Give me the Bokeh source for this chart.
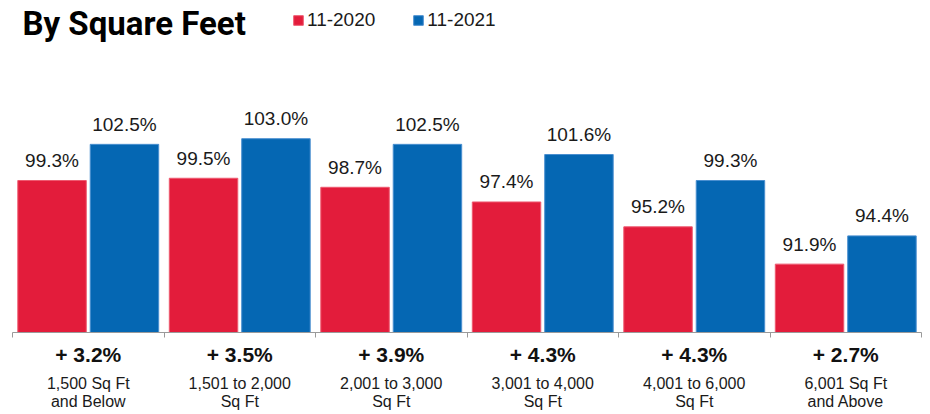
from bokeh.plotting import figure
from bokeh.models import (Range1d, FixedTicker, LinearAxis, Label, Legend, LegendItem,
                          ColumnDataSource)
from bokeh.core.properties import value
from bokeh.embed import file_html
from bokeh.resources import INLINE

title_text = "By Square Feet"
series_names = ["11-2020", "11-2021"]
categories = ["1,500 Sq Ft\nand Below", "1,501 to 2,000\nSq Ft", "2,001 to 3,000\nSq Ft",
              "3,001 to 4,000\nSq Ft", "4,001 to 6,000\nSq Ft", "6,001 Sq Ft\nand Above"]
changes = ["+ 3.2%", "+ 3.5%", "+ 3.9%", "+ 4.3%", "+ 4.3%", "+ 2.7%"]
values_2020 = [99.3, 99.5, 98.7, 97.4, 95.2, 91.9]
values_2021 = [102.5, 103.0, 102.5, 101.6, 99.3, 94.4]

RED = "#E31C3B"
BLUE = "#0567B3"
FONT = "Liberation Sans"
TITLE_FONT = "Roboto"

Y0, Y1 = 85.85, 115.23
n = len(categories)
centers = [i + 0.5 for i in range(n)]
OFF = 0.239
W = 0.452

src = ColumnDataSource(dict(
    xr=[c - OFF for c in centers],
    xb=[c + OFF for c in centers],
    v20=values_2020,
    v21=values_2021,
    l20=[f"{v:.1f}%" for v in values_2020],
    l21=[f"{v:.1f}%" for v in values_2021],
))

p = figure(width=930, height=414, output_backend="svg", toolbar_location=None,
           x_range=Range1d(0, n), y_range=Range1d(Y0, Y1),
           x_axis_location=None, y_axis_location=None,
           min_border_left=12, min_border_right=9, min_border_top=0, min_border_bottom=82)
p.outline_line_color = None
p.grid.visible = False
p.background_fill_color = "white"

r20 = p.vbar(x="xr", top="v20", bottom=Y0, width=W, source=src,
             fill_color=RED, line_color="#EE5A70", line_width=1)
r21 = p.vbar(x="xb", top="v21", bottom=Y0, width=W, source=src,
             fill_color=BLUE, line_color="#4A8FD0", line_width=1)

for xcol, ycol, lcol in (("xr", "v20", "l20"), ("xb", "v21", "l21")):
    p.text(x=xcol, y=ycol, text=lcol, source=src, text_align="center",
           text_baseline="alphabetic", y_offset=-20,
           text_font=value(FONT), text_font_size="19px", text_color="#1a1a1a")

ax1 = LinearAxis(ticker=FixedTicker(ticks=centers, minor_ticks=list(range(n + 1))),
                 major_label_overrides={c: ch for c, ch in zip(centers, changes)},
                 major_tick_out=0, major_tick_in=0, minor_tick_out=5, minor_tick_in=0,
                 axis_line_color="#9a9a9a", minor_tick_line_color="#9a9a9a",
                 major_label_text_font=FONT, major_label_text_font_style="bold",
                 major_label_text_font_size="21px", major_label_standoff=5,
                 major_label_text_color="#111111")
ax2 = LinearAxis(ticker=FixedTicker(ticks=centers),
                 major_label_overrides={c: lab for c, lab in zip(centers, categories)},
                 axis_line_color=None, major_tick_line_color=None, minor_tick_line_color=None,
                 major_label_text_font=FONT, major_label_text_font_size="16px",
                 major_label_text_line_height=1.1,
                 major_label_standoff=0, major_label_text_color="#1a1a1a")
p.add_layout(ax1, "below")
p.add_layout(ax2, "below")

p.add_layout(Label(x=10, y=309, x_units="screen", y_units="screen", text=title_text,
                   text_font=TITLE_FONT, text_font_style="bold", text_font_size="33px",
                   text_color="#000000", text_baseline="alphabetic"))

legend = Legend(items=[LegendItem(label=series_names[0], renderers=[r20]),
                       LegendItem(label=series_names[1], renderers=[r21])],
                orientation="horizontal", location=(280, 301),
                glyph_width=12, glyph_height=12, label_standoff=3, spacing=37,
                padding=0, margin=0, border_line_color=None, background_fill_alpha=0,
                label_text_font=FONT, label_text_font_size="19px",
                label_text_color="#1a1a1a")
p.add_layout(legend, "center")

open("out.html", "w").write(file_html(p, INLINE))
